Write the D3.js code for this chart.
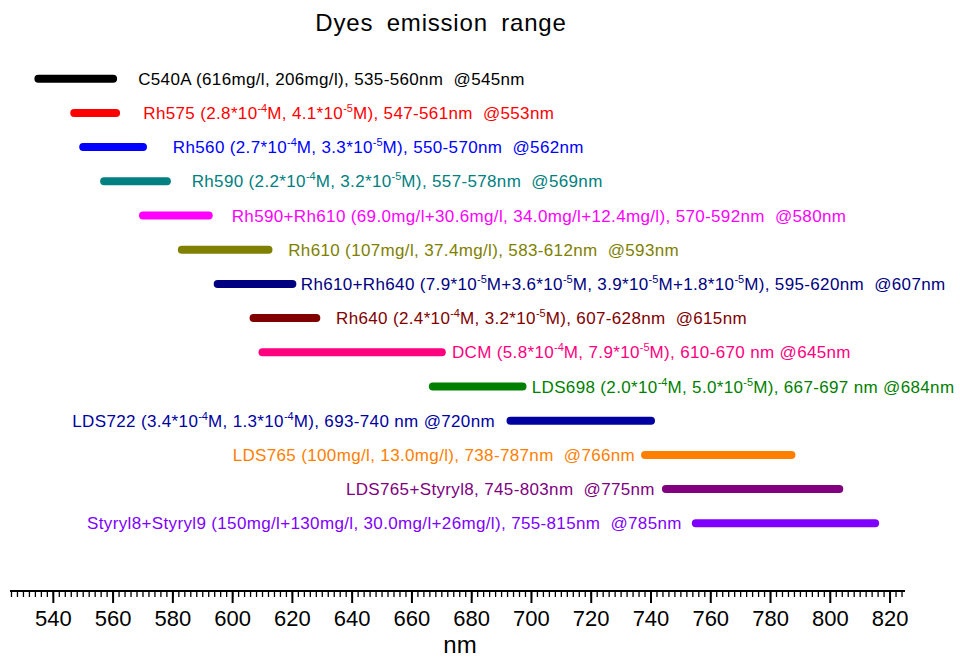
<!DOCTYPE html>
<meta charset="utf-8">
<style>
body { margin: 0; background: #ffffff; }
svg { display: block; font-family: "Liberation Sans", Arial, sans-serif; }
.label { white-space: pre; }
</style>
<body>
<script src="https://cdn.jsdelivr.net/npm/d3@7"></script>
<script>

// dye names, top to bottom
var dyes = ["C540A", "Rh575", "Rh560", "Rh590", "Rh590+Rh610", "Rh610", "Rh610+Rh640",
  "Rh640", "DCM", "LDS698", "LDS722", "LDS765", "LDS765+Styryl8", "Styryl8+Styryl9"];

// emission range (nm)
var rangeStart = [535, 547, 550, 557, 570, 583, 595, 607, 610, 667, 693, 738, 745, 755];
var rangeEnd   = [560, 561, 570, 578, 592, 612, 620, 628, 670, 697, 740, 787, 803, 815];

// label text, ^{..} is a superscript
var labels = [
  "C540A (616mg/l, 206mg/l), 535-560nm  @545nm",
  "Rh575 (2.8*10^{-4}M, 4.1*10^{-5}M), 547-561nm  @553nm",
  "Rh560 (2.7*10^{-4}M, 3.3*10^{-5}M), 550-570nm  @562nm",
  "Rh590 (2.2*10^{-4}M, 3.2*10^{-5}M), 557-578nm  @569nm",
  "Rh590+Rh610 (69.0mg/l+30.6mg/l, 34.0mg/l+12.4mg/l), 570-592nm  @580nm",
  "Rh610 (107mg/l, 37.4mg/l), 583-612nm  @593nm",
  "Rh610+Rh640 (7.9*10^{-5}M+3.6*10^{-5}M, 3.9*10^{-5}M+1.8*10^{-5}M), 595-620nm  @607nm",
  "Rh640 (2.4*10^{-4}M, 3.2*10^{-5}M), 607-628nm  @615nm",
  "DCM (5.8*10^{-4}M, 7.9*10^{-5}M), 610-670 nm @645nm",
  "LDS698 (2.0*10^{-4}M, 5.0*10^{-5}M), 667-697 nm @684nm",
  "LDS722 (3.4*10^{-4}M, 1.3*10^{-4}M), 693-740 nm @720nm",
  "LDS765 (100mg/l, 13.0mg/l), 738-787nm  @766nm",
  "LDS765+Styryl8, 745-803nm  @775nm",
  "Styryl8+Styryl9 (150mg/l+130mg/l, 30.0mg/l+26mg/l), 755-815nm  @785nm"
];

// where each label sits on the nm axis, and on which side of its bar
var labelAt = [568.4, 570.1, 580.0, 586.3, 599.7, 618.6, 622.8, 634.6, 673.4, 700.1, 687.8, 734.7, 741.3, 750.3];
var labelSide = ["right", "right", "right", "right", "right", "right", "right", "right", "right", "right",
  "left", "left", "left", "left"];

var colors = ["#000000", "#ff0000", "#0000ff", "#008080", "#ff00ff", "#808000", "#000080",
  "#800000", "#ff0080", "#008000", "#0000a0", "#ff8000", "#800080", "#8000ff"];

// axis ticks
var majorTicks = d3.range(540, 821, 20);
var minorTicks = d3.range(526, 825, 2);

var width = 960, height = 657;

var svg = d3.select("body").append("svg")
  .attr("width", width)
  .attr("height", height);

//x scale in nm
var x = d3.scaleLinear()
  .domain([525.5, 825])
  .range([10, 905]);

//one row per dye
var y = d3.scalePoint()
  .domain(dyes)
  .range([78.7, 523.3]);

var axisY = 591;

// title
svg.append("text")
  .attr("x", 441)
  .attr("y", 31)
  .attr("text-anchor", "middle")
  .style("font-size", "24px")
  .style("letter-spacing", "0.8px")
  .style("word-spacing", "6px")
  .style("fill", "#000")
  .text("Dyes emission range");

var rows = dyes.map(function(d, i) {
  return { name: d, start: rangeStart[i], end: rangeEnd[i], label: labels[i],
    at: labelAt[i], side: labelSide[i], color: colors[i] };
});

// range bars
svg.selectAll(".bar")
  .data(rows)
  .enter().append("line")
  .attr("class", "bar")
  .attr("x1", function(d) { return x(d.start); })
  .attr("x2", function(d) { return x(d.end); })
  .attr("y1", function(d) { return y(d.name); })
  .attr("y2", function(d) { return y(d.name); })
  .attr("stroke", function(d) { return d.color; })
  .attr("stroke-width", 8)
  .attr("stroke-linecap", "round");

// labels with superscripts
var lab = svg.selectAll(".label")
  .data(rows)
  .enter().append("text")
  .attr("class", "label")
  .attr("x", function(d) { return x(d.at); })
  .attr("y", function(d) { return y(d.name) + 6; })
  .attr("text-anchor", function(d) { return d.side == "left" ? "end" : "start"; })
  .style("font-size", "17px")
  .style("letter-spacing", "0.35px")
  .style("fill", function(d) { return d.color; });

lab.each(function(d) {
  var t = d3.select(this);
  var parts = d.label.split(/\^\{([^}]*)\}/);
  var shift = 0;
  parts.forEach(function(p, k) {
    if (p === "") return;
    if (k % 2 == 1) {
      t.append("tspan").attr("dy", -7 - shift).style("font-size", "11px").style("letter-spacing", "0px").text(p);
      shift = -7;
    } else {
      t.append("tspan").attr("dy", -shift).text(p);
      shift = 0;
    }
  });
});

// x axis
svg.append("line")
  .attr("x1", x.range()[0])
  .attr("x2", x.range()[1])
  .attr("y1", axisY)
  .attr("y2", axisY)
  .attr("stroke", "#000")
  .attr("stroke-width", 2);

svg.selectAll(".minor")
  .data(minorTicks)
  .enter().append("line")
  .attr("class", "minor")
  .attr("x1", function(d) { return x(d); })
  .attr("x2", function(d) { return x(d); })
  .attr("y1", axisY)
  .attr("y2", axisY + 6)
  .attr("stroke", "#000")
  .attr("stroke-width", 1.3);

svg.selectAll(".major")
  .data(majorTicks)
  .enter().append("line")
  .attr("class", "major")
  .attr("x1", function(d) { return x(d); })
  .attr("x2", function(d) { return x(d); })
  .attr("y1", axisY)
  .attr("y2", axisY + 12)
  .attr("stroke", "#000")
  .attr("stroke-width", 2);

svg.selectAll(".tick-label")
  .data(majorTicks)
  .enter().append("text")
  .attr("class", "tick-label")
  .attr("x", function(d) { return x(d); })
  .attr("y", 626)
  .attr("text-anchor", "middle")
  .style("font-size", "22px")
  .style("fill", "#000")
  .text(function(d) { return d; });

svg.append("text")
  .attr("x", 460)
  .attr("y", 652.5)
  .attr("text-anchor", "middle")
  .style("font-size", "24px")
  .style("fill", "#000")
  .text("nm");

</script>
</body>
